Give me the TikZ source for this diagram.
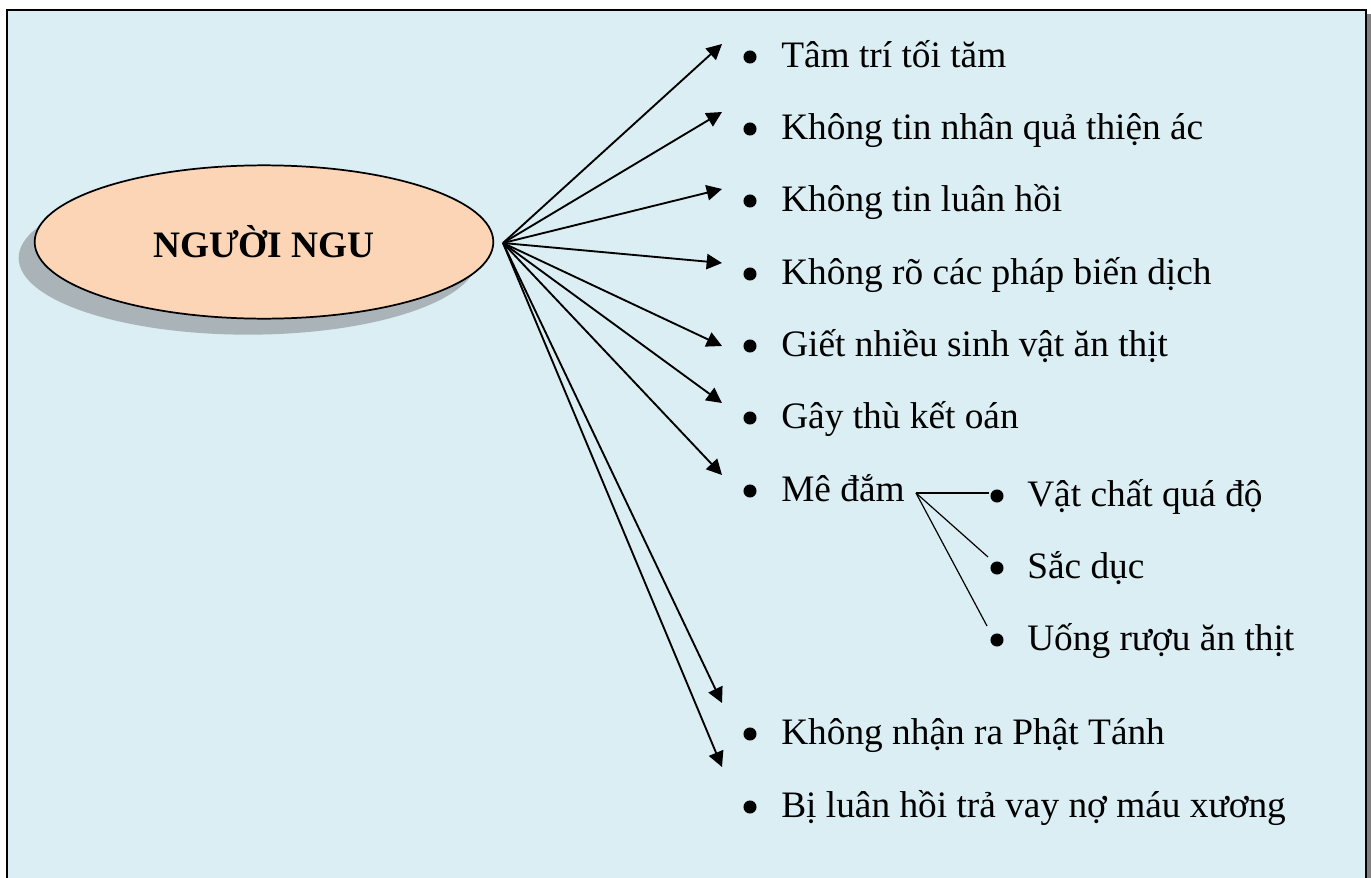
\documentclass[tikz,border=0pt]{standalone}
\usepackage{fontspec}
\setmainfont{Liberation Serif}
\usetikzlibrary{arrows.meta, positioning, shapes.geometric, shadows}
\definecolor{panelblue}{HTML}{DAEEF3}
\definecolor{peach}{HTML}{FBD5B5}
\definecolor{ovalshade}{HTML}{A9B3B8}
\definecolor{panelshade}{HTML}{808080}
\tikzset{%
   % central oval, its gray shadow falls to the lower left
   bigoval/.style={
      ellipse,
      draw,
      line width=1.3pt,
      fill=peach,
      minimum width=344pt,
      minimum height=115pt,
      font=\fontsize{28}{32}\selectfont\bfseries,
      drop shadow={shadow xshift=-12pt, shadow yshift=-12pt,
                   fill=ovalshade, opacity=1}
   },
   itemtext/.style={
      anchor=base west,
      inner sep=0pt,
      font=\fontsize{28}{32}\selectfont
   },
   bulletdot/.style={
      circle,
      inner sep=0pt,
      minimum size=9.8pt,
      fill=black
   },
   fanarrow/.style={
      -{Triangle[length=11.5pt, width=11.5pt]},
      line width=1.4pt
   },
   subline/.style={
      line width=0.9pt
   },
}

\begin{document}
\begin{tikzpicture}[x=0.75pt, y=-0.75pt]
  \useasboundingbox (0,0) rectangle (1371,878);
  \clip (0,0) rectangle (1371,878);
  % panel with a thin shadow on its right
  \fill[panelshade] (11,14) rectangle (1371,900);
  \filldraw[fill=panelblue, line width=1.8pt] (7,10) rectangle (1366,900);

  \node[bigoval] (nguoi) at (264,242) {NGƯỜI NGU};
  \coordinate (hub) at (503,243);

  % main list
  \foreach \name/\yy/\txt in {
      tam/57/Tâm trí tối tăm,
      nhanqua/129/Không tin nhân quả thiện ác,
      luanhoi/201/Không tin luân hồi,
      biendich/274/Không rõ các pháp biến dịch,
      sinhvat/346/Giết nhiều sinh vật ăn thịt,
      thuoan/418/Gây thù kết oán,
      medam/491/Mê đắm,
      phattanh/734/Không nhận ra Phật Tánh,
      nomau/807/Bị luân hồi trả vay nợ máu xương}{
    \node[bulletdot] (b\name) at (750,\yy) {};
    \node[itemtext] (\name) at (781,\yy+10) {\txt};
  }

  % arrows from the oval
  \foreach \k/\ty in {1/44, 2/112, 3/189, 4/263, 5/346, 6/403, 7/475, 8/703, 9/767}{
    \coordinate (tip\k) at (722,\ty);
    \draw[fanarrow] (hub) -- (tip\k);
  }

  % sub list of Mê đắm
  \foreach \name/\yy/\txt in {
      vatchat/496/Vật chất quá độ,
      sacduc/568/Sắc dục,
      ruou/640/Uống rượu ăn thịt}{
    \node[bulletdot] (b\name) at (997,\yy) {};
    \node[itemtext] (\name) at (1027,\yy+10) {\txt};
  }
  \coordinate (subhub) at (916,493);
  \coordinate (evatchat) at (989,493);
  \coordinate (esacduc) at (988,557);
  \coordinate (eruou) at (987,626);
  \draw[subline] (subhub) -- (evatchat);
  \draw[subline] (subhub) -- (esacduc);
  \draw[subline] (subhub) -- (eruou);
\end{tikzpicture}
\end{document}
